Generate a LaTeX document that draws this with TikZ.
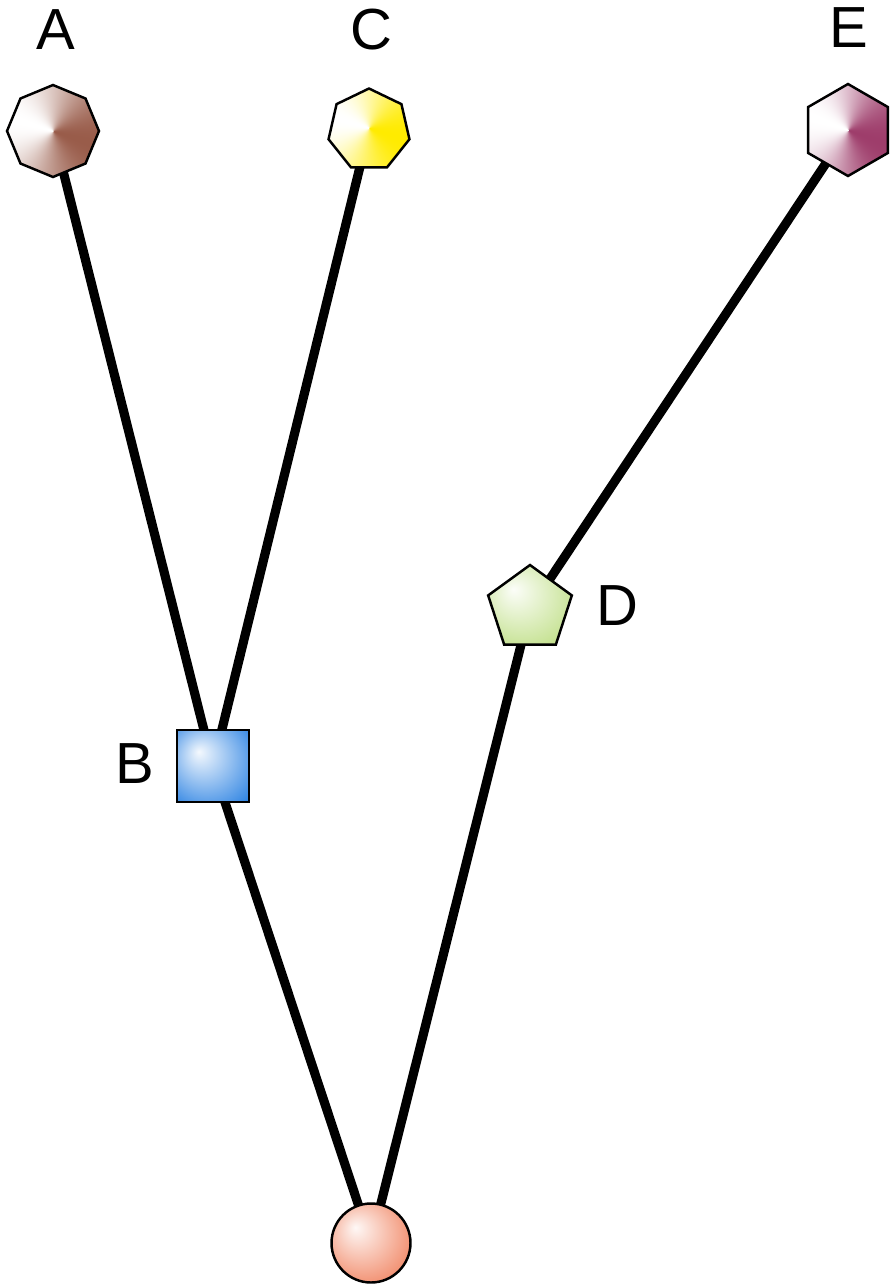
\documentclass[tikz,border=0pt]{standalone}
\usepackage{fontspec}
\setmainfont{Liberation Sans}
\usetikzlibrary{shapes.geometric,backgrounds}

% conic fills for the leaves: white streak on the left, full colour on the right
\pgfdeclarefunctionalshading{conicA}{\pgfpoint{-50bp}{-50bp}}{\pgfpoint{50bp}{50bp}}{}{
  exch 0.001 add atan 163 sub cos 1 add 2 div dup dup
  0.71 mul 0.29 add 3 1 roll 0.64 mul 0.36 add exch 0.40 mul 0.60 add 3 1 roll exch }
\pgfdeclarefunctionalshading{conicC}{\pgfpoint{-50bp}{-50bp}}{\pgfpoint{50bp}{50bp}}{}{
  exch 0.001 add atan 163 sub cos 1 add 2 div dup dup
  1.0 mul 0.0 add 3 1 roll 0.08 mul 0.92 add exch 0.0 mul 1.0 add 3 1 roll exch }
\pgfdeclarefunctionalshading{conicE}{\pgfpoint{-50bp}{-50bp}}{\pgfpoint{50bp}{50bp}}{}{
  exch 0.001 add atan 163 sub cos 1 add 2 div dup dup
  0.58 mul 0.42 add 3 1 roll 0.76 mul 0.24 add exch 0.38 mul 0.62 add 3 1 roll exch }

% glossy fills for the inner nodes and the root
\definecolor{boxBlue}{RGB}{35,125,225}
\definecolor{penGreen}{RGB}{190,222,132}
\definecolor{rootRed}{RGB}{238,112,72}
\pgfdeclareradialshading{glossB}{\pgfpoint{-10bp}{10bp}}{color(0bp)=(white!95!boxBlue); color(40bp)=(boxBlue); color(50bp)=(boxBlue)}
\pgfdeclareradialshading{glossD}{\pgfpoint{-10bp}{10bp}}{color(0bp)=(white!95!penGreen); color(36bp)=(penGreen); color(50bp)=(penGreen)}
\pgfdeclareradialshading{glossR}{\pgfpoint{-10bp}{10bp}}{color(0bp)=(white!95!rootRed); color(40bp)=(rootRed); color(50bp)=(rootRed)}

\begin{document}
\begin{tikzpicture}[x=0.02cm, y=-0.02cm,
    tip/.style={draw=black, line width=1.4pt, inner sep=0pt},
    lbl/.style={font=\fontsize{33}{36}\selectfont, inner sep=0pt},
    branch/.style={line width=5.2pt, black}
  ]
  \useasboundingbox (0,0) rectangle (890,1286);

  % leaves
  \node[tip, regular polygon, regular polygon sides=8, shape border rotate=22.5,
        minimum size=1.84cm, shading=conicA] (a) at (53,131) {};
  \node[tip, regular polygon, regular polygon sides=7,
        minimum size=1.66cm, shading=conicC] (c) at (369,130) {};
  \node[tip, regular polygon, regular polygon sides=6, shape border rotate=30,
        minimum size=1.84cm, shading=conicE] (e) at (848,130) {};

  % inner nodes and root
  \node[tip, rectangle, minimum size=1.44cm, shading=glossB] (b) at (213,766) {};
  \node[tip, regular polygon, regular polygon sides=5,
        minimum size=1.76cm, shading=glossD] (d) at (530,609) {};
  \node[tip, circle, minimum size=1.58cm, shading=glossR] (r) at (371,1243) {};

  % labels
  \node[lbl] (la) at (56,30)  {A};
  \node[lbl] (lc) at (371,30) {C};
  \node[lbl] (le) at (849,28) {E};
  \node[lbl] (lb) at (135,764) {B};
  \node[lbl] (ld) at (617,606) {D};

  \begin{pgfonlayer}{background}
    \foreach \u/\v in {a/b, c/b, b/r, e/d, d/r}
      \draw[branch] (\u.center) -- (\v.center);
  \end{pgfonlayer}
\end{tikzpicture}
\end{document}
